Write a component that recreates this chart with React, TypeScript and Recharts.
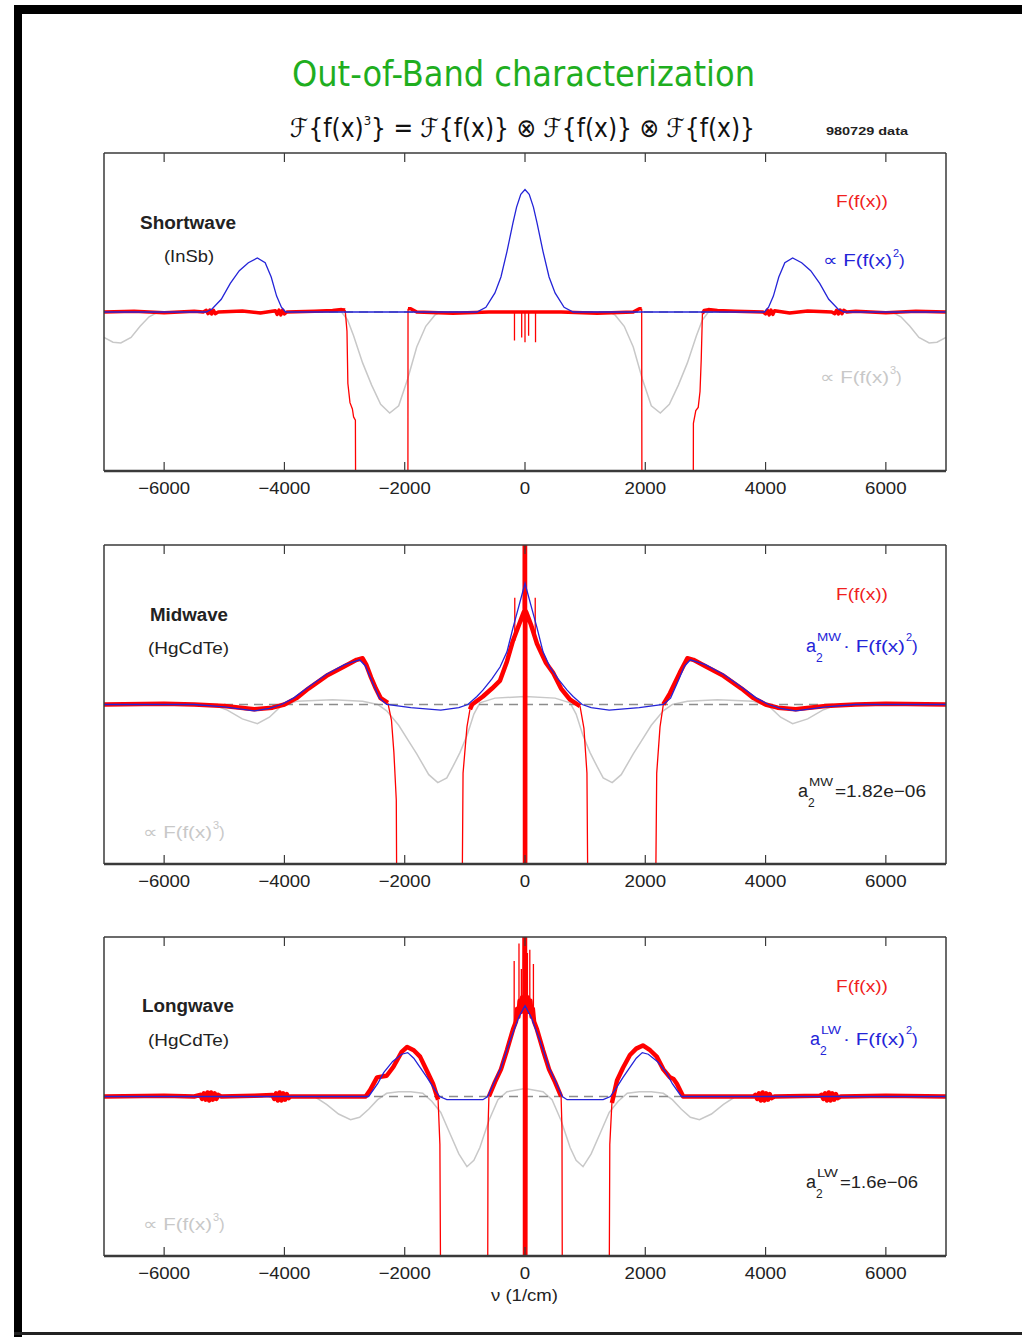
import React from 'react'
import { LineChart, Line, XAxis, YAxis } from 'recharts'

type Pt = [number, number | null]

const X_DOMAIN: [number, number] = [-7000, 7000]
const Y_DOMAIN: [number, number] = [-1, 1]
const X_TICKS = [-6000, -4000, -2000, 0, 2000, 4000, 6000]
const BASELINE: Pt[] = [[-7000, 0], [7000, 0]]

// Shortwave (InSb)
const SW_BLUE: Pt[] = [
  [-7000, 0], [-5300, 0], [-5200, 0.02], [-5050, 0.08], [-4900, 0.18], [-4750, 0.26], [-4600, 0.31],
  [-4450, 0.34], [-4320, 0.31], [-4220, 0.22], [-4130, 0.1], [-4050, 0.03], [-3980, 0],
  [-800, 0], [-650, 0.03], [-500, 0.12], [-400, 0.22], [-300, 0.38], [-200, 0.56], [-140, 0.66], [-70, 0.74],
  [0, 0.77], [70, 0.74], [140, 0.66], [200, 0.56], [300, 0.38], [400, 0.22], [500, 0.12], [650, 0.03], [800, 0],
  [3980, 0], [4050, 0.03], [4130, 0.1], [4220, 0.22], [4320, 0.31], [4450, 0.34], [4600, 0.31],
  [4750, 0.26], [4900, 0.18], [5050, 0.08], [5200, 0.02], [5300, 0], [7000, 0],
]
const SW_GREY: Pt[] = [
  [-7000, -0.16], [-6850, -0.19], [-6720, -0.195], [-6550, -0.16], [-6400, -0.09], [-6250, -0.03], [-6100, 0],
  [-3050, 0], [-2950, -0.05], [-2850, -0.15], [-2700, -0.32], [-2550, -0.46], [-2400, -0.58], [-2250, -0.635],
  [-2100, -0.59], [-1950, -0.42], [-1800, -0.22], [-1650, -0.09], [-1500, -0.02], [-1400, 0],
  [1400, 0], [1500, -0.02], [1650, -0.09], [1800, -0.22], [1950, -0.42], [2100, -0.59], [2250, -0.635],
  [2400, -0.58], [2550, -0.46], [2700, -0.32], [2850, -0.15], [2950, -0.05], [3050, 0],
  [6100, 0], [6250, -0.03], [6400, -0.09], [6550, -0.16], [6720, -0.195], [6850, -0.19], [7000, -0.16],
]
const SW_RED_BAND: Pt[] = [
  [-7000, 0], [-6500, 0.005], [-6000, -0.005], [-5500, 0.005], [-5350, 0], [-5300, 0.01], [-5270, -0.01],
  [-5240, 0.012], [-5210, -0.012], [-5180, 0.01], [-5150, -0.01], [-5100, 0], [-4700, 0.006], [-4400, -0.006],
  [-4150, 0.008], [-4120, -0.015], [-4090, 0.012], [-4060, -0.018], [-4030, 0.012], [-4000, -0.012], [-3960, 0],
  [-3500, 0.005], [-3200, 0.01], [-3050, 0.015], [-2990, 0.012], [-2500, null],
  [-1945, 0.02], [-1900, 0.02], [-1800, 0], [-1200, -0.008], [-600, 0], [0, 0], [600, 0], [1200, -0.008],
  [1800, 0], [1900, 0.02], [1940, 0.02], [2500, null],
  [2950, -0.01], [2980, 0.01], [3050, 0.015], [3200, 0.01], [3500, 0.005], [3960, 0], [4000, -0.012],
  [4030, 0.012], [4060, -0.018], [4090, 0.012], [4120, -0.015], [4150, 0.008], [4400, -0.006], [4700, 0.006],
  [5100, 0], [5150, -0.01], [5180, 0.01], [5210, -0.012], [5240, 0.012], [5270, -0.01], [5300, 0.01],
  [5350, 0], [5500, 0.005], [6000, -0.005], [6500, 0.005], [7000, 0],
]
const SW_RED_THIN: Pt[] = [
  [-2990, 0.012], [-2960, -0.12], [-2945, -0.45], [-2910, -0.57], [-2870, -0.61], [-2850, -0.66], [-2820, -0.68],
  [-2800, -3], [-2500, null], [-1950, -3], [-1945, 0.02], [-1000, null],
  [-175, 0], [-175, -0.18], [-100, null], [-55, 0], [-55, -0.16], [-30, null], [0, 0], [0, -0.19], [30, null],
  [60, 0], [60, -0.15], [100, null], [175, 0], [175, -0.19], [1000, null],
  [1940, 0.02], [1950, -3], [2500, null], [2790, -3], [2800, -0.7], [2840, -0.62], [2880, -0.6], [2910, -0.5],
  [2930, -0.3], [2950, -0.01],
]

// Midwave (HgCdTe)
const MW_BLUE: Pt[] = [
  [-7000, 0], [-5500, 0], [-5000, -0.015], [-4500, -0.04], [-4250, -0.025], [-4050, 0], [-3850, 0.04],
  [-3600, 0.11], [-3300, 0.19], [-3000, 0.25], [-2750, 0.28], [-2650, 0.24], [-2550, 0.15], [-2420, 0.04],
  [-2300, 0], [-1900, -0.02], [-1400, -0.035], [-1100, -0.02], [-950, 0], [-800, 0.05], [-700, 0.09],
  [-550, 0.16], [-415, 0.235], [-300, 0.33], [-200, 0.48], [-100, 0.62], [0, 0.76], [100, 0.62], [200, 0.48],
  [300, 0.33], [415, 0.235], [550, 0.16], [700, 0.09], [800, 0.05], [950, 0], [1100, -0.02], [1400, -0.035],
  [1900, -0.02], [2300, 0], [2420, 0.04], [2550, 0.15], [2650, 0.24], [2750, 0.28], [3000, 0.25], [3300, 0.19],
  [3600, 0.11], [3850, 0.04], [4050, 0], [4250, -0.025], [4500, -0.04], [5000, -0.015], [5500, 0], [7000, 0],
]
const MW_GREY: Pt[] = [
  [-7000, 0], [-5200, 0], [-4950, -0.035], [-4700, -0.09], [-4450, -0.12], [-4250, -0.08], [-4070, -0.015],
  [-3800, 0.02], [-3200, 0.03], [-2700, 0.02], [-2450, 0], [-2300, -0.04], [-2100, -0.13], [-1950, -0.22],
  [-1800, -0.31], [-1600, -0.44], [-1450, -0.49], [-1300, -0.46], [-1200, -0.39], [-1080, -0.3], [-960, -0.19],
  [-850, -0.06], [-750, 0.01], [-500, 0.04], [0, 0.05], [500, 0.04], [750, 0.01], [850, -0.06], [960, -0.19],
  [1080, -0.3], [1200, -0.39], [1300, -0.46], [1450, -0.49], [1600, -0.44], [1800, -0.31], [1950, -0.22],
  [2100, -0.13], [2300, -0.04], [2450, 0], [2700, 0.02], [3200, 0.03], [3800, 0.02], [4070, -0.015],
  [4250, -0.08], [4450, -0.12], [4700, -0.09], [4950, -0.035], [5200, 0], [7000, 0],
]
const MW_RED_BAND: Pt[] = [
  [-7000, 0], [-6000, 0.005], [-5500, 0], [-5000, -0.01], [-4500, -0.03], [-4200, -0.02], [-4000, 0],
  [-3800, 0.04], [-3600, 0.1], [-3300, 0.18], [-3000, 0.24], [-2800, 0.28], [-2700, 0.29], [-2640, 0.25],
  [-2560, 0.17], [-2480, 0.1], [-2400, 0.04], [-2280, 0.01], [-2200, null],
  [-915, -0.03], [-880, 0], [-700, 0.05], [-550, 0.1], [-415, 0.15], [-300, 0.27], [-200, 0.4], [-100, 0.5],
  [-20, 0.58], [-5, 0.59], [0, 3], [0, -3], [5, 0.59], [20, 0.58], [100, 0.5], [200, 0.38], [250, 0.34],
  [350, 0.26], [465, 0.2], [600, 0.1], [750, 0.03], [915, -0.01], [1000, null],
  [2300, 0], [2410, 0.07], [2575, 0.2], [2700, 0.29], [2800, 0.28], [3000, 0.24], [3300, 0.18], [3600, 0.1],
  [3800, 0.04], [4000, 0], [4200, -0.02], [4500, -0.03], [5000, -0.01], [5500, 0], [6000, 0.005], [7000, 0],
]
const MW_RED_THIN: Pt[] = [
  [-2280, 0.01], [-2220, -0.1], [-2180, -0.3], [-2140, -0.6], [-2110, -3], [-1500, null],
  [-1080, -3], [-1030, -0.43], [-965, -0.14], [-915, -0.03], [-500, null],
  [-170, 0.4], [-170, 0.67], [0, null], [170, 0.4], [170, 0.67], [500, null],
  [915, -0.01], [980, -0.15], [1030, -0.43], [1080, -3], [1500, null],
  [2130, -3], [2190, -0.43], [2245, -0.14], [2300, 0],
]

// Longwave (HgCdTe)
const LW_BLUE: Pt[] = [
  [-7000, 0], [-2600, 0], [-2450, 0.08], [-2350, 0.15], [-2200, 0.22], [-2050, 0.265], [-1950, 0.275],
  [-1850, 0.24], [-1750, 0.185], [-1630, 0.12], [-1530, 0.06], [-1420, 0], [-1300, -0.02], [-700, -0.02],
  [-620, 0], [-500, 0.1], [-400, 0.18], [-250, 0.35], [-100, 0.5], [0, 0.57], [100, 0.5], [250, 0.35],
  [400, 0.18], [500, 0.1], [620, 0], [700, -0.02], [1300, -0.02], [1420, 0], [1530, 0.06], [1630, 0.12],
  [1750, 0.185], [1850, 0.24], [1950, 0.275], [2050, 0.265], [2200, 0.22], [2350, 0.15], [2450, 0.08],
  [2600, 0], [7000, 0],
]
const LW_GREY: Pt[] = [
  [-7000, 0], [-3500, 0], [-3300, -0.05], [-3100, -0.11], [-2900, -0.145], [-2750, -0.13], [-2600, -0.08],
  [-2450, -0.02], [-2300, 0.02], [-2100, 0.03], [-1900, 0.03], [-1700, 0.02], [-1550, -0.03], [-1400, -0.1],
  [-1250, -0.23], [-1100, -0.36], [-965, -0.44], [-850, -0.4], [-750, -0.32], [-600, -0.15], [-450, -0.02],
  [-300, 0.03], [0, 0.05], [300, 0.03], [450, -0.02], [600, -0.15], [750, -0.32], [850, -0.4], [965, -0.44],
  [1100, -0.36], [1250, -0.23], [1400, -0.1], [1550, -0.03], [1700, 0.02], [1900, 0.03], [2100, 0.03],
  [2300, 0.02], [2450, -0.02], [2600, -0.08], [2750, -0.13], [2900, -0.145], [3100, -0.11], [3300, -0.05],
  [3500, 0], [7000, 0],
]
const LW_RED_BAND: Pt[] = [
  [-7000, 0], [-6000, 0.005], [-5500, 0], [-5400, 0.01], [-5370, -0.015], [-5340, 0.02], [-5310, -0.02],
  [-5280, 0.025], [-5250, -0.025], [-5220, 0.025], [-5190, -0.02], [-5160, 0.02], [-5130, -0.015],
  [-5100, 0.01], [-5050, 0], [-4500, 0.005], [-4200, 0.01], [-4170, -0.015], [-4140, 0.02], [-4110, -0.025],
  [-4080, 0.025], [-4050, -0.025], [-4020, 0.02], [-3990, -0.02], [-3960, 0.015], [-3930, -0.01], [-3900, 0],
  [-3000, 0], [-2650, 0], [-2575, 0.04], [-2460, 0.12],
  [-2300, 0.13], [-2190, 0.185], [-2050, 0.28], [-1960, 0.31], [-1850, 0.29], [-1745, 0.25], [-1630, 0.16],
  [-1530, 0.08], [-1445, -0.02], [-1000, null],
  [-600, 0], [-500, 0.09], [-400, 0.17], [-300, 0.29], [-200, 0.42], [-150, 0.47], [-130, 0.55], [-110, 0.5],
  [-90, 0.6], [-70, 0.53], [-50, 0.62], [-30, 0.55], [-10, 0.6], [0, 3], [0, -3], [10, 0.6], [30, 0.55],
  [50, 0.62], [70, 0.53], [90, 0.6], [110, 0.5], [130, 0.55], [150, 0.47], [200, 0.42], [300, 0.29],
  [400, 0.17], [500, 0.09], [600, 0], [1000, null],
  [1445, -0.04], [1530, 0.1], [1630, 0.18], [1745, 0.26], [1850, 0.3], [1960, 0.32], [2080, 0.29],
  [2190, 0.25], [2300, 0.17], [2410, 0.12], [2470, 0.11], [2525, 0.08], [2630, 0], [3000, 0], [3800, 0],
  [3830, 0.01], [3860, -0.015], [3890, 0.02], [3920, -0.025], [3950, 0.025], [3980, -0.025], [4010, 0.02],
  [4040, -0.02], [4070, 0.015], [4100, -0.01], [4150, 0], [4900, 0.005], [4930, 0.01], [4960, -0.015],
  [4990, 0.02], [5020, -0.025], [5050, 0.025], [5080, -0.025], [5110, 0.02], [5140, -0.02], [5170, 0.015],
  [5200, -0.01], [5250, 0], [6000, 0.005], [7000, 0],
]
const LW_RED_THIN: Pt[] = [
  [-1445, -0.02], [-1415, -0.3], [-1380, -3], [-1000, null], [-630, -3], [-615, -0.2], [-600, 0], [-400, null],
  [-180, 0.42], [-180, 0.85], [-150, null], [-100, 0.5], [-100, 0.96], [-80, null], [-60, 0.55], [-60, 0.8],
  [0, null], [40, 0.57], [40, 0.9], [60, null], [80, 0.54], [80, 0.92], [110, null], [140, 0.47], [140, 0.83],
  [400, null], [600, 0], [615, -0.2], [630, -3], [1000, null], [1380, -3], [1410, -0.3], [1445, -0.04],
]

const SANS = '"Liberation Sans", Arial, Helvetica, sans-serif'
const COND = '"DejaVu Sans Condensed", "DejaVu Sans", sans-serif'
const RED = '#ff0000'
const BLUE = '#2424d8'
const LIGHT = '#c8c8c8'
const DASH = '#8c8c8c'
const FRAME = '#3a3a3a'

const toData = (pts: Pt[]) => pts.map(([x, y]) => ({ x, y }))

const fmtTick = (v: number) => (v < 0 ? '\u2212' + Math.abs(v) : String(v))

const BottomTick = (props: any) => {
  const { x, y, payload } = props
  const label = fmtTick(payload.value)
  return (
    <g>
      <line x1={x} x2={x} y1={y} y2={y - 9} stroke={FRAME} strokeWidth={1.2} />
      <text x={x} y={y + 23} textAnchor="middle" fontSize={17} fontFamily={SANS} fill="#222"
        textLength={label.length * 10.4} lengthAdjust="spacingAndGlyphs">{label}</text>
    </g>
  )
}

const TopTick = (props: any) => {
  const { x, y } = props
  return <line x1={x} x2={x} y1={y} y2={y + 9} stroke={FRAME} strokeWidth={1.2} />
}

interface PanelProps {
  top: number
  bottom: number
  grey: Pt[]
  blue: Pt[]
  redBand: Pt[]
  redThin: Pt[]
  bandWidth: number
}

function Panel({ top, bottom, grey, blue, redBand, redThin, bandWidth }: PanelProps) {
  const axisH = 20
  const mBottom = 30
  const h = bottom - top
  const common = { xAxisId: 'b', yAxisId: 'l', dataKey: 'y', dot: false, activeDot: false, isAnimationActive: false, type: 'linear' as const }
  return (
    <div style={{ position: 'absolute', left: 0, top: top - axisH }}>
      <LineChart width={1022} height={h + axisH * 2 + mBottom} margin={{ top: 0, right: 56, bottom: mBottom, left: 84 }}>
        <XAxis xAxisId="b" type="number" dataKey="x" domain={X_DOMAIN} ticks={X_TICKS} interval={0}
          allowDataOverflow height={axisH} tickSize={0} tickMargin={0} tickLine={false}
          axisLine={{ stroke: FRAME, strokeWidth: 2.5 }} tick={BottomTick} />
        <XAxis xAxisId="t" orientation="top" type="number" dataKey="x" domain={X_DOMAIN} ticks={X_TICKS} interval={0}
          allowDataOverflow height={axisH} tickSize={0} tickMargin={0} tickLine={false}
          axisLine={{ stroke: FRAME, strokeWidth: 1.5 }} tick={TopTick} />
        <YAxis yAxisId="l" type="number" domain={Y_DOMAIN} allowDataOverflow width={20} tick={false} tickLine={false}
          axisLine={{ stroke: FRAME, strokeWidth: 1.5 }} />
        <YAxis yAxisId="r" orientation="right" type="number" domain={Y_DOMAIN} allowDataOverflow width={20} tick={false}
          tickLine={false} axisLine={{ stroke: FRAME, strokeWidth: 1.5 }} />
        <Line {...common} data={toData(grey)} stroke={LIGHT} strokeWidth={1.5} />
        <Line {...common} data={toData(BASELINE)} stroke={DASH} strokeWidth={1.6} strokeDasharray="9 6" />
        <Line {...common} data={toData(redBand)} stroke={RED} strokeWidth={bandWidth} strokeLinejoin="round" />
        <Line {...common} data={toData(redThin)} stroke={RED} strokeWidth={1.3} />
        <Line {...common} data={toData(blue)} stroke={BLUE} strokeWidth={1.3} />
      </LineChart>
    </div>
  )
}

interface TProps {
  x: number
  y: number
  w?: number
  size?: number
  fill?: string
  weight?: number
  family?: string
  children: React.ReactNode
}

function T({ x, y, w, size = 18, fill = '#222', weight = 400, family = SANS, children }: TProps) {
  return (
    <text x={x} y={y} fontSize={size} fill={fill} fontWeight={weight} fontFamily={family}
      textLength={w} lengthAdjust={w ? 'spacingAndGlyphs' : undefined}>{children}</text>
  )
}

function PropLabel({ x, y, fill, power }: { x: number; y: number; fill: string; power: string }) {
  return (
    <g>
      <T x={x} y={y} w={69} size={17} fill={fill}>{'\u221D F(f(x)'}</T>
      <T x={x + 70} y={y - 9} size={11} fill={fill}>{power}</T>
      <T x={x + 76} y={y} size={17} fill={fill}>)</T>
    </g>
  )
}

function ALabel({ x, y, tag, tagW, fill, rest, restW }: { x: number; y: number; tag: string; tagW: number; fill: string; rest: string; restW: number }) {
  return (
    <g>
      <T x={x} y={y} size={18} fill={fill}>a</T>
      <T x={x + 10} y={y + 10} size={12} fill={fill}>2</T>
      <T x={x + 11} y={y - 11} w={tagW} size={11} fill={fill}>{tag}</T>
      <T x={x + 13 + tagW} y={y} w={restW} size={17} fill={fill}>{rest}</T>
    </g>
  )
}

function BlueALabel({ x, y, tag, tagW }: { x: number; y: number; tag: string; tagW: number }) {
  return (
    <g>
      <ALabel x={x} y={y} tag={tag} tagW={tagW} fill={BLUE} rest={'\u00B7 F(f(x)'} restW={62} />
      <T x={x + 13 + tagW + 63} y={y - 11} size={11} fill={BLUE}>2</T>
      <T x={x + 13 + tagW + 69} y={y} size={17} fill={BLUE}>)</T>
    </g>
  )
}

function Labels() {
  return (
    <svg width={1022} height={1337} style={{ position: 'absolute', left: 0, top: 0, pointerEvents: 'none' }}>
      <T x={292} y={86} w={463} size={36} fill="#1fae1f" family={COND}>Out-of-Band characterization</T>
      <text x={290} y={137} fontSize={26} fill="#111" fontFamily={COND} textLength={465} lengthAdjust="spacingAndGlyphs">
        {'\u2131{f(x)'}
        <tspan dy={-12} fontSize={13}>3</tspan>
        <tspan dy={12}>{'} = \u2131{f(x)} \u2297 \u2131{f(x)} \u2297 \u2131{f(x)}'}</tspan>
      </text>
      <T x={826} y={135} w={82} size={11} weight={700} fill="#222">980729 data</T>

      {/* shortwave */}
      <T x={140} y={229} w={96} size={18} weight={700}>Shortwave</T>
      <T x={164} y={262} w={50} size={17}>(InSb)</T>
      <T x={836} y={207} w={52} size={17} fill="#f02020">F(f(x))</T>
      <PropLabel x={823} y={266} fill={BLUE} power="2" />
      <PropLabel x={820} y={383} fill={LIGHT} power="3" />

      {/* midwave */}
      <T x={150} y={621} w={78} size={18} weight={700}>Midwave</T>
      <T x={148} y={654} w={81} size={17}>(HgCdTe)</T>
      <T x={836} y={600} w={52} size={17} fill="#f02020">F(f(x))</T>
      <BlueALabel x={806} y={652} tag="MW" tagW={24} />
      <ALabel x={798} y={797} tag="MW" tagW={24} fill="#222" rest={'=1.82e\u221206'} restW={91} />
      <PropLabel x={143} y={838} fill={LIGHT} power="3" />

      {/* longwave */}
      <T x={142} y={1012} w={92} size={18} weight={700}>Longwave</T>
      <T x={148} y={1046} w={81} size={17}>(HgCdTe)</T>
      <T x={836} y={992} w={52} size={17} fill="#f02020">F(f(x))</T>
      <BlueALabel x={810} y={1045} tag="LW" tagW={20} />
      <ALabel x={806} y={1188} tag="LW" tagW={21} fill="#222" rest={'=1.6e\u221206'} restW={78} />
      <PropLabel x={143} y={1230} fill={LIGHT} power="3" />

      <T x={491} y={1301} w={67} size={17}>{'\u03BD (1/cm)'}</T>
    </svg>
  )
}

export default function App() {
  return (
    <div style={{ position: 'absolute', left: 0, top: 0, width: 1022, height: 1337, background: '#fff', overflow: 'hidden' }}>
      <div style={{ position: 'absolute', left: 14, top: 5, width: 1008, height: 9, background: '#000' }} />
      <div style={{ position: 'absolute', left: 14, top: 5, width: 8, height: 1332, background: '#000' }} />
      <div style={{ position: 'absolute', left: 14, top: 1332, width: 1008, height: 3, background: '#222' }} />
      <Panel top={153} bottom={471} grey={SW_GREY} blue={SW_BLUE} redBand={SW_RED_BAND} redThin={SW_RED_THIN} bandWidth={3.5} />
      <Panel top={545} bottom={864} grey={MW_GREY} blue={MW_BLUE} redBand={MW_RED_BAND} redThin={MW_RED_THIN} bandWidth={4.5} />
      <Panel top={937} bottom={1256} grey={LW_GREY} blue={LW_BLUE} redBand={LW_RED_BAND} redThin={LW_RED_THIN} bandWidth={4.5} />
      <Labels />
    </div>
  )
}
